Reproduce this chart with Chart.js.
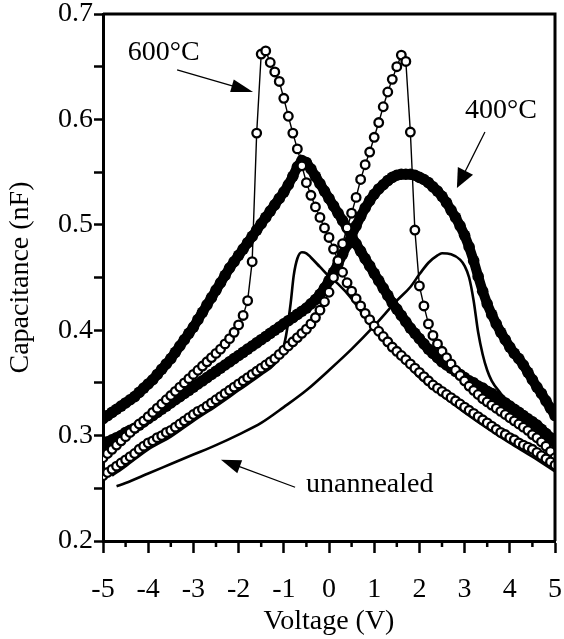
<!DOCTYPE html>
<html>
<head>
<meta charset="utf-8">
<script src="https://cdn.jsdelivr.net/npm/chart.js@4"></script>
<style>
  html, body { margin: 0; padding: 0; background: #fff; }
  #wrap { width: 564px; height: 639px; }
</style>
</head>
<body>
<div id="wrap"><canvas id="cv" width="564" height="639"></canvas></div>
<script>
// Sweep voltages (V), shared by the 400C and 600C sweeps
const volts = [
  -5.0,-4.9,-4.8,-4.7,-4.6,-4.5,-4.4,-4.3,-4.2,-4.1,
  -4.0,-3.9,-3.8,-3.7,-3.6,-3.5,-3.4,-3.3,-3.2,-3.1,
  -3.0,-2.9,-2.8,-2.7,-2.6,-2.5,-2.4,-2.3,-2.2,-2.1,
  -2.0,-1.9,-1.8,-1.7,-1.6,-1.5,-1.4,-1.3,-1.2,-1.1,
  -1.0,-0.9,-0.8,-0.7,-0.6,-0.5,-0.4,-0.3,-0.2,-0.1,
  0.0,0.1,0.2,0.3,0.4,0.5,0.6,0.7,0.8,0.9,
  1.0,1.1,1.2,1.3,1.4,1.5,1.6,1.7,1.8,1.9,
  2.0,2.1,2.2,2.3,2.4,2.5,2.6,2.7,2.8,2.9,
  3.0,3.1,3.2,3.3,3.4,3.5,3.6,3.7,3.8,3.9,
  4.0,4.1,4.2,4.3,4.4,4.5,4.6,4.7,4.8,4.9,5.0
];

// 400C, filled dots (two sweep directions)
const cap400a = [
  0.316,0.319,0.322,0.325,0.328,0.331,0.334,0.337,0.341,0.345,
  0.349,0.353,0.358,0.363,0.368,0.373,0.379,0.385,0.391,0.397,
  0.403,0.410,0.417,0.424,0.431,0.438,0.445,0.452,0.459,0.465,
  0.471,0.477,0.483,0.489,0.495,0.501,0.507,0.513,0.519,0.525,
  0.531,0.538,0.546,0.555,0.561,0.559,0.553,0.546,0.539,0.532,
  0.525,0.518,0.511,0.504,0.497,0.489,0.482,0.475,0.468,0.461,
  0.454,0.447,0.440,0.433,0.426,0.420,0.414,0.408,0.402,0.397,
  0.392,0.387,0.382,0.378,0.374,0.370,0.367,0.364,0.361,0.358,
  0.355,0.352,0.350,0.347,0.345,0.342,0.340,0.337,0.334,0.331,
  0.328,0.325,0.322,0.319,0.316,0.313,0.310,0.306,0.302,0.298,0.294
];
const cap400b = [
  0.292,0.294,0.296,0.298,0.300,0.303,0.305,0.307,0.310,0.313,
  0.316,0.319,0.322,0.325,0.328,0.331,0.334,0.337,0.340,0.343,
  0.346,0.349,0.352,0.355,0.358,0.361,0.364,0.367,0.370,0.373,
  0.376,0.379,0.382,0.385,0.388,0.391,0.394,0.397,0.400,0.403,
  0.406,0.409,0.412,0.415,0.418,0.421,0.425,0.429,0.434,0.440,
  0.447,0.455,0.463,0.472,0.481,0.490,0.499,0.508,0.516,0.523,
  0.529,0.534,0.538,0.542,0.545,0.547,0.548,0.548,0.548,0.547,
  0.545,0.543,0.540,0.536,0.532,0.527,0.521,0.514,0.507,0.499,
  0.490,0.479,0.466,0.451,0.437,0.425,0.415,0.406,0.398,0.391,
  0.384,0.378,0.373,0.367,0.360,0.353,0.346,0.340,0.333,0.326,0.319
];

// 600C, open circles
const cap600a = [
  0.279,0.283,0.287,0.291,0.295,0.299,0.303,0.307,0.311,0.314,
  0.318,0.322,0.326,0.330,0.334,0.338,0.342,0.346,0.350,0.354,
  0.358,0.362,0.366,0.370,0.374,0.378,0.382,0.387,0.392,0.398,
  0.405,0.414,0.428,0.465,0.587,0.662,0.665,0.654,0.645,0.636,
  0.620,0.603,0.587,0.572,0.556,0.540,0.528,0.517,0.507,0.497,
  0.488,0.477,0.466,0.455,0.445,0.437,0.430,0.423,0.416,0.410,
  0.404,0.399,0.394,0.389,0.384,0.380,0.376,0.372,0.368,0.364,
  0.360,0.356,0.352,0.348,0.345,0.342,0.339,0.336,0.333,0.330,
  0.327,0.324,0.321,0.318,0.315,0.312,0.309,0.306,0.303,0.301,
  0.298,0.296,0.293,0.291,0.289,0.287,0.284,0.281,0.278,0.275,0.272
];
const cap600b = [
  0.262,0.265,0.268,0.271,0.274,0.277,0.280,0.283,0.287,0.290,
  0.293,0.295,0.298,0.300,0.303,0.305,0.308,0.311,0.314,0.317,
  0.320,0.323,0.325,0.328,0.331,0.334,0.337,0.340,0.343,0.346,
  0.349,0.352,0.355,0.358,0.361,0.364,0.367,0.370,0.373,0.377,
  0.381,0.385,0.389,0.393,0.397,0.401,0.406,0.412,0.419,0.427,
  0.436,0.450,0.466,0.482,0.497,0.511,0.526,0.543,0.557,0.569,
  0.583,0.597,0.612,0.626,0.638,0.650,0.661,0.655,0.588,0.495,
  0.442,0.423,0.406,0.395,0.387,0.380,0.374,0.368,0.362,0.357,
  0.352,0.347,0.343,0.339,0.335,0.332,0.329,0.326,0.323,0.320,
  0.317,0.314,0.311,0.308,0.305,0.301,0.298,0.294,0.290,0.285,0.279
];

// unannealed, plain lines
const voltUnA = [-4.7,-4.5,-4.0,-3.5,-3.0,-2.5,-2.0,-1.5,-1.0,-0.5,0.0,0.5,1.0,1.5,1.8,2.0,2.2,2.4,2.5,2.7,2.9,3.0,3.1,3.2,3.3,3.4,3.5,3.6,3.8,4.0,4.5,5.0];
const capUnA  = [0.252,0.255,0.264,0.273,0.282,0.291,0.301,0.312,0.327,0.343,0.362,0.382,0.404,0.428,0.441,0.453,0.464,0.471,0.473,0.472,0.467,0.461,0.450,0.428,0.398,0.377,0.362,0.352,0.340,0.330,0.310,0.288];
const voltUnB = [-4.8,-4.5,-4.0,-3.5,-3.0,-2.5,-2.0,-1.5,-1.2,-1.05,-0.95,-0.85,-0.78,-0.7,-0.6,-0.5,-0.4,-0.2,0.0,0.2,0.5,1.0,1.5,2.0,2.5,3.0,3.5,4.0,4.5,5.0];
const capUnB  = [0.262,0.271,0.287,0.299,0.314,0.328,0.343,0.358,0.368,0.378,0.395,0.425,0.452,0.468,0.474,0.473,0.469,0.460,0.451,0.444,0.430,0.400,0.378,0.355,0.338,0.322,0.307,0.293,0.280,0.266];

const xTicks = [-5, 5, 1];      // min, max, step
const yTicks = [0.2, 0.7, 0.1];

const FONT = { family: '"Liberation Serif", "Times New Roman", serif', size: 28 };

const pts = (xs, ys) => xs.map((x, i) => ({ x: x, y: ys[i] }));

const openCircles = data => ({
  data: data,
  showLine: true,
  borderColor: '#000',
  borderWidth: 1.4,
  pointRadius: 4.3,
  pointBorderWidth: 2.3,
  pointBackgroundColor: '#fff',
  pointBorderColor: '#000',
  tension: 0
});
const filledDots = data => ({
  data: data,
  showLine: true,
  borderColor: '#000',
  borderWidth: 10,
  pointRadius: 5.8,
  pointBorderWidth: 0,
  pointBackgroundColor: '#000',
  tension: 0
});
const plainLine = data => ({
  data: data,
  showLine: true,
  borderColor: '#000',
  borderWidth: 2.6,
  pointRadius: 0,
  cubicInterpolationMode: 'monotone'
});

// arrows + text labels and the missing ticks / frame sides
const decor = {
  id: 'decor',
  afterDatasetsDraw(chart) {
    const { ctx, chartArea: a, scales: { x, y } } = chart;
    ctx.save();
    ctx.strokeStyle = '#000';
    ctx.fillStyle = '#000';

    // top + right sides of the box
    ctx.lineWidth = 3;
    ctx.beginPath();
    ctx.moveTo(a.left, a.top);
    ctx.lineTo(a.right, a.top);
    ctx.lineTo(a.right, a.bottom);
    ctx.stroke();

    // minor ticks on the voltage axis
    ctx.lineWidth = 2.5;
    for (let v = xTicks[0] + 0.5; v < xTicks[1]; v += 1) {
      const px = x.getPixelForValue(v);
      ctx.beginPath();
      ctx.moveTo(px, a.bottom);
      ctx.lineTo(px, a.bottom + 6);
      ctx.stroke();
    }

    const arrow = (x1, y1, x2, y2, len, w) => {
      const X1 = x.getPixelForValue(x1), Y1 = y.getPixelForValue(y1);
      const X2 = x.getPixelForValue(x2), Y2 = y.getPixelForValue(y2);
      const ang = Math.atan2(Y2 - Y1, X2 - X1);
      ctx.lineWidth = 1.3;
      ctx.beginPath();
      ctx.moveTo(X1, Y1);
      ctx.lineTo(X2 - Math.cos(ang) * len * 0.7, Y2 - Math.sin(ang) * len * 0.7);
      ctx.stroke();
      ctx.save();
      ctx.translate(X2, Y2);
      ctx.rotate(ang);
      ctx.beginPath();
      ctx.moveTo(0, 0);
      ctx.lineTo(-len, -w / 2);
      ctx.lineTo(-len, w / 2);
      ctx.closePath();
      ctx.fill();
      ctx.restore();
    };
    arrow(-3.36, 0.647, -1.68, 0.626, 22, 13);
    arrow(3.45, 0.588, 2.83, 0.535, 19, 17);
    arrow(-0.75, 0.251, -2.39, 0.277, 20, 14);

    ctx.font = FONT.size + 'px ' + FONT.family;
    ctx.textAlign = 'left';
    ctx.textBaseline = 'middle';
    const label = (t, vx, vy) => ctx.fillText(t, x.getPixelForValue(vx), y.getPixelForValue(vy));
    label('600\u00B0C', -4.45, 0.663);
    label('400\u00B0C', 3.01, 0.608);
    label('unannealed', -0.51, 0.253);
    ctx.restore();
  }
};

new Chart(document.getElementById('cv'), {
  type: 'scatter',
  data: {
    datasets: [
      openCircles(pts(volts, cap600a)),
      openCircles(pts(volts, cap600b)),
      plainLine(pts(voltUnA, capUnA)),
      plainLine(pts(voltUnB, capUnB)),
      filledDots(pts(volts, cap400a)),
      filledDots(pts(volts, cap400b))
    ]
  },
  options: {
    responsive: false,
    animation: false,
    devicePixelRatio: 1,
    layout: { padding: { top: 14, right: 9, left: 0, bottom: 0 } },
    plugins: { legend: { display: false }, tooltip: { enabled: false } },
    scales: {
      x: {
        type: 'linear',
        min: xTicks[0], max: xTicks[1],
        afterFit: s => { s.height = 98; s.paddingLeft = 0; s.paddingRight = 0; },
        border: { display: true, color: '#000', width: 3 },
        grid: { drawOnChartArea: false, drawTicks: true, tickLength: 12, tickWidth: 2.5, tickColor: '#000' },
        ticks: { stepSize: xTicks[2], autoSkip: false, maxRotation: 0, color: '#000', font: FONT, padding: 20,
                 callback: v => String(v) },
        title: { display: true, text: 'Voltage (V)', color: '#000', font: FONT, padding: { top: 0, bottom: 1 } }
      },
      y: {
        type: 'linear',
        min: yTicks[0], max: yTicks[1],
        afterFit: s => { s.width = 103; s.paddingTop = 0; s.paddingBottom = 0; },
        border: { display: true, color: '#000', width: 3 },
        grid: { drawOnChartArea: false, drawTicks: true, tickLength: 9, tickWidth: 2.5, tickColor: '#000' },
        ticks: { stepSize: yTicks[2] / 2, autoSkip: false, color: '#000', font: FONT, padding: 1,
                 callback: v => { const r = Math.round(v * 100); return r % 10 === 0 ? (r / 100).toFixed(1) : ''; } },
        title: { display: true, text: 'Capacitance (nF)', color: '#000', font: FONT, padding: { top: 4, bottom: 0 } }
      }
    }
  },
  plugins: [decor]
});
</script>
</body>
</html>
